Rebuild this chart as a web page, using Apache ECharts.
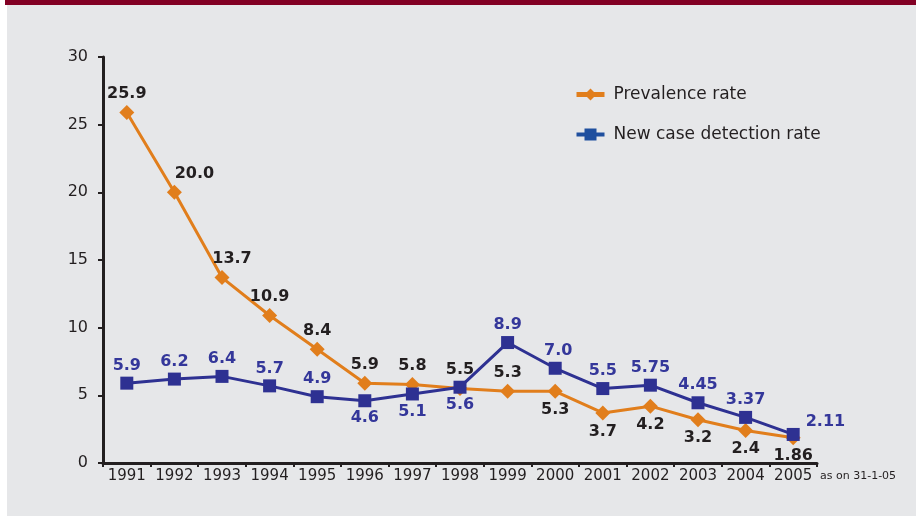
<!DOCTYPE html>
<html>
<head>
<meta charset="utf-8">
<script src="https://cdn.jsdelivr.net/npm/echarts@6/dist/echarts.min.js"></script>
<style>
  html, body { margin: 0; padding: 0; background: #ffffff; }
  #band { position: absolute; left: 5px; top: 0; width: 911px; height: 5px; background: #820024; }
  #panel { position: absolute; left: 7px; top: 5px; width: 909px; height: 511px; background: #e6e7e9; }
  #chart { position: absolute; left: 0; top: 0; width: 916px; height: 517px; }
</style>
</head>
<body>
<div id="band"></div>
<div id="panel"></div>
<div id="chart"></div>
<script>
// Leprosy indicators by year (per 10,000 population)
const years = ['1991','1992','1993','1994','1995','1996','1997','1998','1999','2000','2001','2002','2003','2004','2005'];
const prevalence = [25.9, 20.0, 13.7, 10.9, 8.4, 5.9, 5.8, 5.5, 5.3, 5.3, 3.7, 4.2, 3.2, 2.4, 1.86];
const prevalenceText = ['25.9','20.0','13.7','10.9','8.4','5.9','5.8','5.5','5.3','5.3','3.7','4.2','3.2','2.4','1.86'];
const detection = [5.9, 6.2, 6.4, 5.7, 4.9, 4.6, 5.1, 5.6, 8.9, 7.0, 5.5, 5.75, 4.45, 3.37, 2.11];
const detectionText = ['5.9','6.2','6.4','5.7','4.9','4.6','5.1','5.6','8.9','7.0','5.5','5.75','4.45','3.37','2.11'];
const yTicks = [0, 5, 10, 15, 20, 25, 30];

// where each value label sits relative to its point
const prevalencePlace = ['top','top','top','top','top','top','top','top','top','bottom','bottom','bottom','bottom','bottom','bottom'];
const prevalenceShift = {1: [20, 0], 2: [10, 0]};
const detectionPlace = ['top','top','top','top','top','bottom','bottom','bottom','top','top','top','top','top','top','right'];
const detectionShift = {9: [3, 0], 14: [3, -13]};

const FONT = '"DejaVu Sans", Verdana, sans-serif';
const DARK = '#231f20';
const ORANGE = '#e17e1c';
const BLUE = '#2e3192';

function points(values, texts, place, shift) {
  return values.map((v, i) => ({
    value: v,
    label: {
      position: place[i],
      offset: shift[i] || [0, 0],
      formatter: texts[i]
    }
  }));
}

const chart = echarts.init(document.getElementById('chart'), null, { renderer: 'canvas' });
chart.setOption({
  backgroundColor: 'transparent',
  animation: false,
  grid: { left: 103, right: 99, top: 57, bottom: 54, containLabel: false },
  legend: {
    orient: 'vertical',
    left: 574,
    top: 86,
    padding: 0,
    itemWidth: 28,
    itemHeight: 15,
    itemGap: 23,
    textStyle: { fontFamily: FONT, fontSize: 17, color: DARK, padding: [0, 0, 0, 4] },
    data: [
      { name: 'Prevalence rate', itemStyle: { color: ORANGE }, lineStyle: { color: ORANGE, width: 5 } },
      { name: 'New case detection rate', itemStyle: { color: '#1f4f9e' }, lineStyle: { color: '#1f4f9e', width: 4 } }
    ]
  },
  xAxis: {
    type: 'category',
    data: years,
    boundaryGap: true,
    axisLine: { lineStyle: { color: DARK, width: 3 } },
    axisTick: { show: true, length: 4, lineStyle: { color: DARK, width: 2 } },
    axisLabel: { fontFamily: FONT, fontSize: 15, color: DARK, margin: 6, interval: 0 }
  },
  yAxis: {
    type: 'value',
    min: yTicks[0],
    max: yTicks[yTicks.length - 1],
    interval: yTicks[1] - yTicks[0],
    splitLine: { show: false },
    axisLine: { show: true, lineStyle: { color: DARK, width: 3 } },
    axisTick: { show: true, length: 5, lineStyle: { color: DARK, width: 2 } },
    axisLabel: { fontFamily: FONT, fontSize: 16, color: DARK, margin: 15 }
  },
  graphic: [{
    type: 'text',
    left: 820,
    top: 471,
    style: { text: 'as on 31-1-05', font: '11px ' + FONT, fill: DARK }
  }],
  series: [
    {
      name: 'Prevalence rate',
      type: 'line',
      data: points(prevalence, prevalenceText, prevalencePlace, prevalenceShift),
      symbol: 'diamond',
      symbolSize: 15,
      itemStyle: { color: ORANGE },
      lineStyle: { color: ORANGE, width: 3 },
      label: { show: true, distance: 3, fontFamily: FONT, fontSize: 16, fontWeight: 'bold', color: DARK },
      z: 2
    },
    {
      name: 'New case detection rate',
      type: 'line',
      data: points(detection, detectionText, detectionPlace, detectionShift),
      symbol: 'rect',
      symbolSize: 13,
      itemStyle: { color: BLUE },
      lineStyle: { color: BLUE, width: 3 },
      label: { show: true, distance: 3, fontFamily: FONT, fontSize: 16, fontWeight: 'bold', color: '#34379a' },
      z: 3
    }
  ]
});
</script>
</body>
</html>
